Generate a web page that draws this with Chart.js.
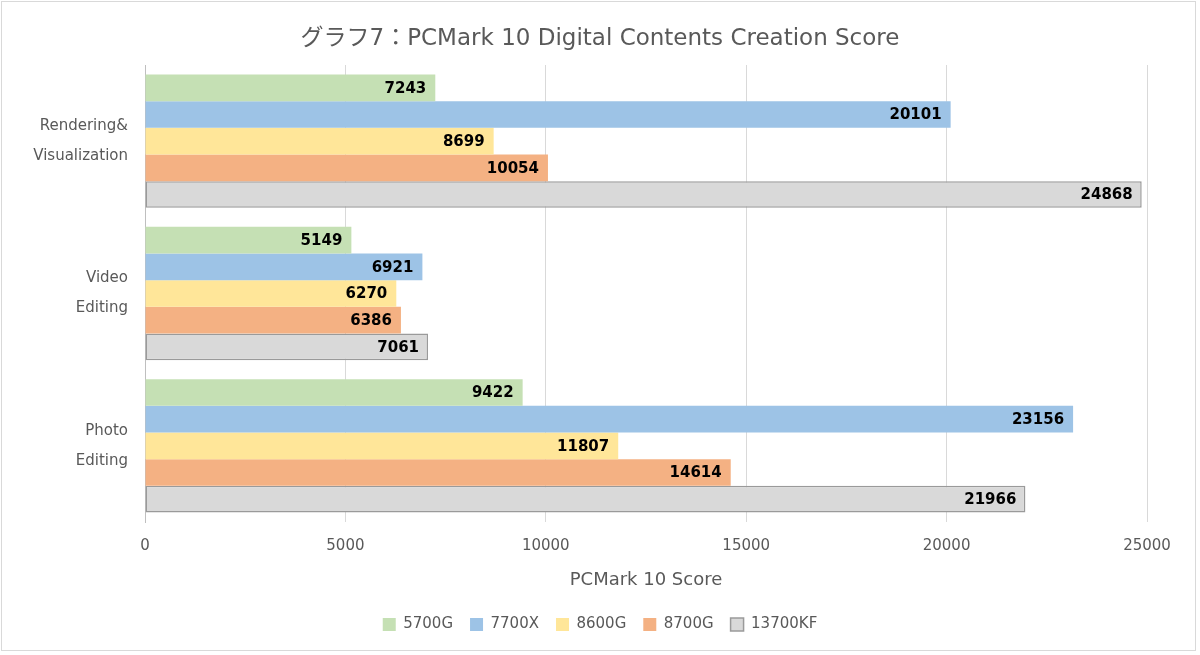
<!DOCTYPE html>
<html>
<head>
<meta charset="utf-8">
<script src="https://cdn.jsdelivr.net/npm/chart.js@4"></script>
<style>
    html, body { margin: 0; padding: 0; background: #fff; }
    #wrap { width: 1200px; height: 655px; }
</style>
</head>
<body>
<div id="wrap"><canvas id="chart" width="1200" height="655"></canvas></div>
<script>
const categories = [['Rendering&', 'Visualization'], ['Video', 'Editing'], ['Photo', 'Editing']];
const cpuNames = ['5700G', '7700X', '8600G', '8700G', '13700KF'];
const score5700G = [7243, 5149, 9422];
const score7700X = [20101, 6921, 23156];
const score8600G = [8699, 6270, 11807];
const score8700G = [10054, 6386, 14614];
const score13700KF = [24868, 7061, 21966];
const xTicks = [0, 5000, 10000, 15000, 20000, 25000];

const barColors = ['#C5E0B4', '#9DC3E6', '#FFE699', '#F4B183', '#D9D9D9'];
const allScores = [score5700G, score7700X, score8600G, score8700G, score13700KF];
const FONT = '"DejaVu Sans", "Noto Sans CJK JP", sans-serif';
const GRAY_TEXT = '#595959';

// white page with the thin frame round it
const framePlugin = {
    id: 'frame',
    beforeDraw(chart) {
        const ctx = chart.ctx;
        ctx.save();
        ctx.fillStyle = '#fff';
        ctx.fillRect(0, 0, chart.width, chart.height);
        ctx.strokeStyle = '#D9D9D9';
        ctx.lineWidth = 1;
        ctx.strokeRect(1.5, 1.5, 1194, 649);
        ctx.restore();
    }
};

// value written inside the end of each bar
const valueLabels = {
    id: 'valueLabels',
    afterDatasetsDraw(chart) {
        const ctx = chart.ctx;
        ctx.save();
        ctx.font = 'bold 15px ' + FONT;
        ctx.fillStyle = '#000';
        ctx.textAlign = 'right';
        ctx.textBaseline = 'middle';
        chart.data.datasets.forEach((ds, i) => {
            chart.getDatasetMeta(i).data.forEach((bar, j) => {
                ctx.fillText(String(ds.data[j]), bar.x - 9, bar.y + 1);
            });
        });
        ctx.restore();
    }
};

const datasets = cpuNames.map((name, i) => ({
    label: name,
    data: allScores[i],
    backgroundColor: barColors[i],
    borderColor: i === 4 ? '#9A9A9A' : barColors[i],
    borderWidth: i === 4 ? 1.5 : 0,
    borderSkipped: false
}));

new Chart(document.getElementById('chart'), {
    type: 'bar',
    data: { labels: categories, datasets },
    options: {
        indexAxis: 'y',
        responsive: false,
        animation: false,
        categoryPercentage: 0.875,
        barPercentage: 1,
        layout: { padding: { left: 0, right: 0, top: 0, bottom: 13 } },
        scales: {
            x: {
                min: 0,
                max: 25000,
                afterBuildTicks(scale) {
                    scale.ticks = xTicks.map(v => ({ value: v }));
                },
                afterFit(scale) {
                    scale.height = 78;
                    scale.paddingRight = 53;
                },
                grid: { color: '#D9D9D9', drawTicks: false },
                border: { display: false },
                ticks: {
                    padding: 15,
                    color: GRAY_TEXT,
                    font: { family: FONT, size: 15 },
                    callback: v => String(v)
                },
                title: {
                    display: true,
                    text: 'PCMark 10 Score',
                    color: GRAY_TEXT,
                    font: { family: FONT, size: 18 },
                    padding: { top: 10, bottom: 9 }
                }
            },
            y: {
                afterFit(scale) { scale.width = 145; },
                grid: { color: 'transparent', drawTicks: false },
                border: { display: true, color: '#BFBFBF' },
                ticks: {
                    padding: 17,
                    color: GRAY_TEXT,
                    font: { family: FONT, size: 15, lineHeight: 2 }
                }
            }
        },
        plugins: {
            title: {
                display: true,
                text: 'グラフ7：PCMark 10 Digital Contents Creation Score',
                color: GRAY_TEXT,
                font: { family: FONT, size: 23, weight: 'normal' },
                padding: { top: 25, bottom: 12.4 }
            },
            legend: {
                position: 'bottom',
                labels: {
                    boxWidth: 13,
                    boxHeight: 13,
                    padding: 17,
                    color: GRAY_TEXT,
                    font: { family: FONT, size: 15 }
                }
            },
            tooltip: { enabled: false }
        }
    },
    plugins: [framePlugin, valueLabels]
});
</script>
</body>
</html>
